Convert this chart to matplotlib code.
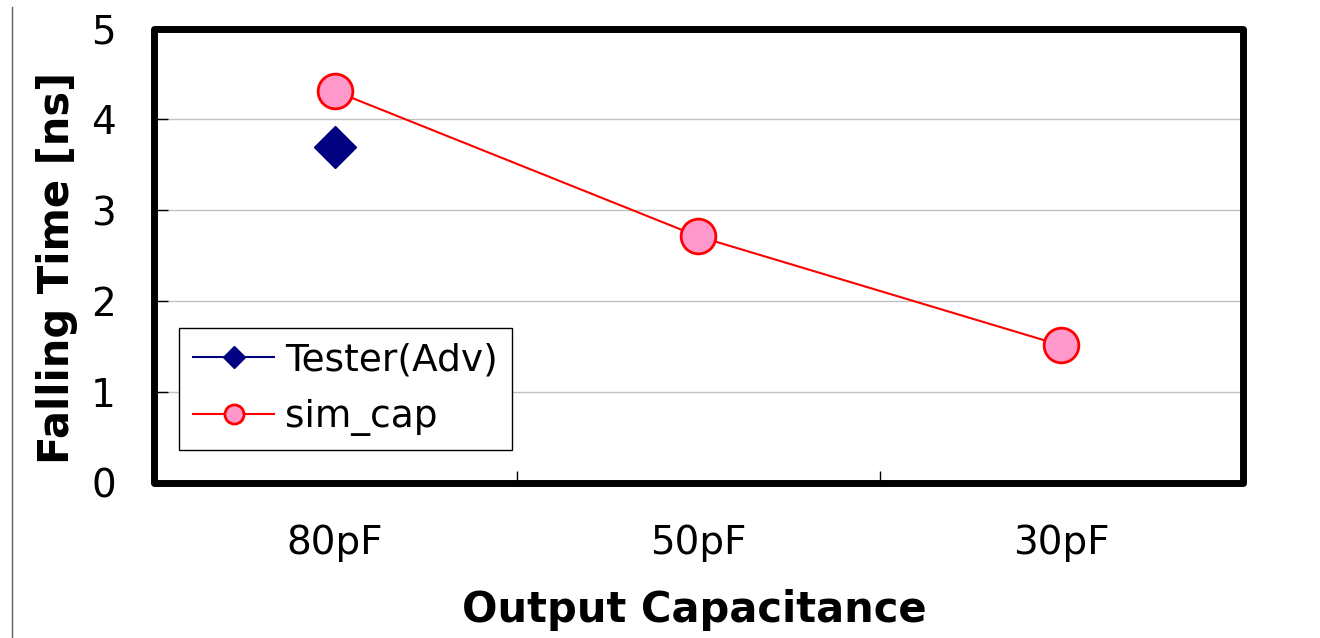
import matplotlib
matplotlib.use('Agg')
import matplotlib.pyplot as plt
from matplotlib.patches import Rectangle
from matplotlib.lines import Line2D

# data
caps = ['80pF', '50pF', '30pF']
tester = [3.69]            # only measured at 80pF
sim_cap = [4.31, 2.71, 1.51]
yticks = [0, 1, 2, 3, 4, 5]

plt.rcParams['font.family'] = ['DejaVu Sans']

fig = plt.figure(figsize=(13.2, 6.38), dpi=100)
ax = fig.add_axes([153.5/1320, 1-482.5/638, (1243-153.5)/1320, (482.5-28.5)/638])

ax.plot(range(len(tester)), tester, color='#000080', marker='D', markersize=21,
        linestyle='-', linewidth=1.5, label='Tester(Adv)', zorder=4)
ax.plot(range(len(sim_cap)), sim_cap, color='#FF0000', linewidth=1.5,
        marker='o', markersize=25, markerfacecolor='#FF99CC',
        markeredgecolor='#FF0000', markeredgewidth=2, label='sim_cap', zorder=4)

ax.set_xlim(-0.5, len(caps) - 0.5)
ax.set_ylim(0, 5)
ax.set_yticks(yticks)
ax.set_xticks(range(len(caps)))
ax.set_xticklabels(caps)
ax.set_xticks([i + 0.5 for i in range(len(caps) - 1)], minor=True)

ax.tick_params(axis='x', which='major', length=0, pad=30, labelsize=28)
ax.tick_params(axis='x', which='minor', direction='in', length=9, width=1, color='black')
ax.tick_params(axis='y', direction='in', length=10, width=1, pad=27, labelsize=28)

ax.yaxis.grid(True, color='#C0C0C0', linewidth=1)
ax.set_axisbelow(True)

for s in ax.spines.values():
    s.set_visible(False)
ax.add_patch(Rectangle((0, 0), 1, 1, transform=ax.transAxes, fill=False,
                       linewidth=5, edgecolor='black', joinstyle='round',
                       clip_on=False, zorder=5))

fig.text(694/1320, 1-610/638, 'Output Capacitance', fontsize=30,
         fontweight='bold', ha='center', va='center')
fig.text(57/1320, 1-268/638, 'Falling Time [ns]', fontsize=30,
         fontweight='bold', ha='center', va='center', rotation=90)

leg = ax.legend(loc='upper left', bbox_to_anchor=(179/1320, 1-328/638),
                bbox_transform=fig.transFigure, borderaxespad=0, fontsize=27,
                markerscale=0.55, handlelength=2.15, handletextpad=0.3,
                borderpad=0.38, labelspacing=0.55, fancybox=False,
                framealpha=1, edgecolor='black')
leg.get_frame().set_linewidth(1.0)
leg.set_zorder(6)

# thin line at the left edge of the picture
fig.add_artist(Line2D([11.5/1320, 11.5/1320], [0, 1-7/638],
                      transform=fig.transFigure, color='#606060', linewidth=1))

plt.savefig('out.png', dpi=100)
